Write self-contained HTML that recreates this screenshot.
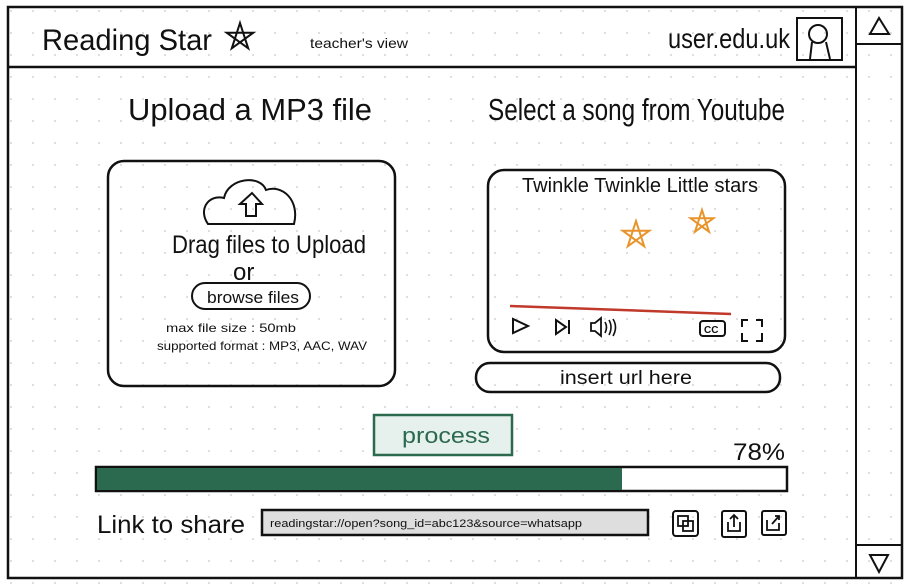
<!DOCTYPE html>
<html><head><meta charset="utf-8"><style>
html,body{margin:0;padding:0;background:#fff}
svg{display:block}
text{font-family:"Liberation Sans",sans-serif;fill:#111}
</style></head><body>
<svg width="910" height="588" viewBox="0 0 910 588" xmlns="http://www.w3.org/2000/svg">
<defs>
<pattern id="dots" x="0" y="0" width="22" height="22" patternUnits="userSpaceOnUse">
<circle cx="11" cy="11" r="0.9" fill="#c8c8c8"/>
</pattern>
</defs>
<rect width="910" height="588" fill="#fff"/>
<rect width="910" height="588" fill="url(#dots)"/>
<rect x="8" y="7" width="894" height="571" fill="none" stroke="#111" stroke-width="2.5"/>
<line x1="8" y1="67" x2="856" y2="67" stroke="#111" stroke-width="2.5"/>
<line x1="856" y1="7" x2="856" y2="578" stroke="#111" stroke-width="2"/>
<line x1="856" y1="44" x2="902" y2="44" stroke="#111" stroke-width="2"/>
<line x1="856" y1="545" x2="902" y2="545" stroke="#111" stroke-width="2"/>
<path d="M870 34 L879 18 L889 34 Z" fill="none" stroke="#111" stroke-width="2"/>
<path d="M870 555 L888 555 L879 572 Z" fill="none" stroke="#111" stroke-width="2"/>
<text x="42" y="50" font-size="30" textLength="170" lengthAdjust="spacingAndGlyphs">Reading Star</text>
<path d="M240 23 L248.2 48.3 L226.7 32.7 L253.3 32.7 L231.8 48.3 Z" fill="none" stroke="#111" stroke-width="2"/>
<text x="310" y="48" font-size="14" textLength="98" lengthAdjust="spacingAndGlyphs">teacher's view</text>
<text x="668" y="48" font-size="28" textLength="122" lengthAdjust="spacingAndGlyphs">user.edu.uk</text>
<rect x="797" y="18" width="45" height="42" fill="none" stroke="#111" stroke-width="2"/>
<circle cx="818" cy="34" r="9" fill="none" stroke="#111" stroke-width="2"/>
<path d="M810 59 L812 42 M826 42 L830 59" fill="none" stroke="#111" stroke-width="2"/>
<text x="128" y="120" font-size="31" textLength="244" lengthAdjust="spacingAndGlyphs">Upload a MP3 file</text>
<text x="488" y="120" font-size="31" textLength="297" lengthAdjust="spacingAndGlyphs">Select a song from Youtube</text>
<rect x="108" y="161" width="287" height="225" rx="16" fill="none" stroke="#111" stroke-width="2.5"/>
<path d="M208 224 C198 210 208 194 224 198 C228 178 260 174 266 190 C282 184 300 200 294 224 Z" fill="none" stroke="#111" stroke-width="2"/>
<path d="M246 216 L246 204 L240 204 L252 193 L262 204 L256 204 L256 216 Z" fill="none" stroke="#111" stroke-width="2"/>
<text x="172" y="253" font-size="25" textLength="194" lengthAdjust="spacingAndGlyphs">Drag files to Upload</text>
<text x="233" y="280" font-size="24">or</text>
<rect x="192" y="283" width="118" height="26" rx="13" fill="none" stroke="#111" stroke-width="2"/>
<text x="207" y="303" font-size="17" textLength="92" lengthAdjust="spacingAndGlyphs">browse files</text>
<text x="166" y="332" font-size="12" textLength="130" lengthAdjust="spacingAndGlyphs">max file size : 50mb</text>
<text x="157" y="350" font-size="12" textLength="210" lengthAdjust="spacingAndGlyphs">supported format : MP3, AAC, WAV</text>
<rect x="488" y="170" width="297" height="182" rx="16" fill="none" stroke="#111" stroke-width="2.5"/>
<text x="522" y="192" font-size="20" textLength="236" lengthAdjust="spacingAndGlyphs">Twinkle Twinkle Little stars</text>
<path d="M636 221 L644.2 246.3 L622.7 230.7 L649.3 230.7 L627.8 246.3 Z" fill="none" stroke="#e8942a" stroke-width="2"/>
<path d="M702 210 L709 231.7 L690.6 218.3 L713.4 218.3 L695 231.7 Z" fill="none" stroke="#e8942a" stroke-width="2"/>
<line x1="510" y1="306" x2="731" y2="314" stroke="#c0392b" stroke-width="2.5"/>
<path d="M513 319 L513 333 L528 326 Z" fill="none" stroke="#111" stroke-width="2"/>
<path d="M556 320 L556 334 L566 327 Z M569 320 L569 334" fill="none" stroke="#111" stroke-width="2"/>
<path d="M591 323 L595 323 L601 318 L601 336 L595 331 L591 331 Z" fill="none" stroke="#111" stroke-width="1.8"/>
<path d="M605 322 Q608 327 605 333 M609 320 Q613 327 609 335 M613 319 Q618 327 613 336" fill="none" stroke="#111" stroke-width="1.6"/>
<rect x="700" y="321" width="25" height="15" rx="3" fill="none" stroke="#111" stroke-width="2"/>
<text x="704" y="333" font-size="10" font-weight="bold">CC</text>
<path d="M742 327 L742 320 L748 320 M756 320 L762 320 L762 327 M762 333 L762 341 L756 341 M748 341 L742 341 L742 333" fill="none" stroke="#111" stroke-width="2"/>
<rect x="476" y="363" width="304" height="29" rx="14" fill="none" stroke="#111" stroke-width="2.5"/>
<text x="560" y="384" font-size="19" textLength="132" lengthAdjust="spacingAndGlyphs">insert url here</text>
<rect x="374" y="415" width="138" height="40" fill="#e6f0ec" stroke="#2b6a4f" stroke-width="2.5"/>
<text x="402" y="443" font-size="22" style="fill:#2b6a4f" textLength="88" lengthAdjust="spacingAndGlyphs">process</text>
<text x="733" y="460" font-size="24" textLength="52" lengthAdjust="spacingAndGlyphs">78%</text>
<rect x="96" y="467" width="691" height="24" fill="#fff" stroke="#111" stroke-width="2.5"/>
<rect x="97" y="468" width="525" height="22" fill="#2b6a4f"/>
<text x="97" y="533" font-size="25" textLength="148" lengthAdjust="spacingAndGlyphs">Link to share</text>
<rect x="262" y="510" width="386" height="25" fill="#dedede" stroke="#111" stroke-width="2.5"/>
<text x="270" y="527" font-size="11" textLength="312" lengthAdjust="spacingAndGlyphs">readingstar://open?song_id=abc123&amp;source=whatsapp</text>
<rect x="673" y="511" width="25" height="25" rx="3" fill="none" stroke="#111" stroke-width="2"/>
<rect x="678" y="516" width="10" height="10" fill="none" stroke="#111" stroke-width="1.8"/>
<rect x="683" y="521" width="10" height="10" fill="none" stroke="#111" stroke-width="1.8"/>
<rect x="722" y="511" width="24" height="26" rx="2" fill="none" stroke="#111" stroke-width="2"/>
<path d="M728 522 L728 531 L740 531 L740 522 M734 527 L734 515 M730 519 L734 515 L738 519" fill="none" stroke="#111" stroke-width="1.8"/>
<rect x="762" y="511" width="24" height="24" rx="2" fill="none" stroke="#111" stroke-width="2"/>
<path d="M767 520 L767 530 L779 530 L779 523 M772 524 L779 516 M775 516 L779 516 L779 520" fill="none" stroke="#111" stroke-width="1.8"/>
</svg>
</body></html>
